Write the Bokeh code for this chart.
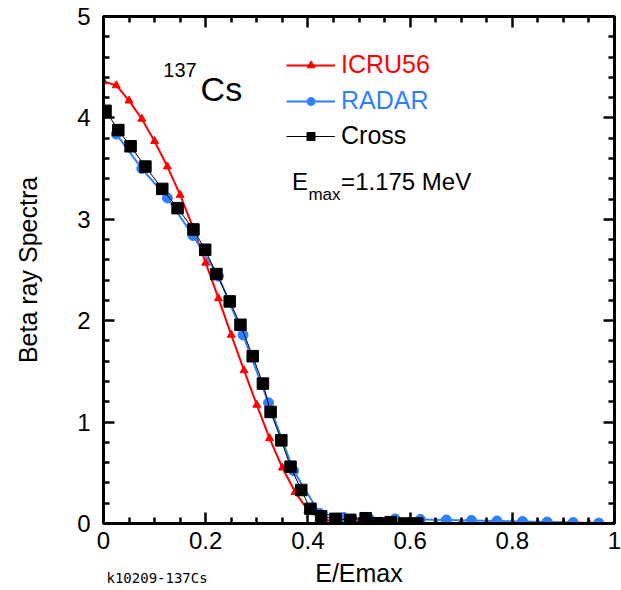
from bokeh.plotting import figure
from bokeh.models import (Range1d, LinearAxis, Legend, LegendItem, Label,
                          FixedTicker)
from bokeh.embed import file_html
from bokeh.resources import INLINE

# ---------------- data ----------------
icru_x = [0.0, 0.025, 0.05, 0.075, 0.1, 0.125, 0.15, 0.175, 0.2, 0.225,
          0.25, 0.275, 0.3, 0.325, 0.35, 0.375, 0.4, 0.425, 0.45, 0.475,
          0.5, 0.525, 0.55, 0.575, 0.6, 0.625, 0.65, 0.675, 0.7, 0.725,
          0.75, 0.775, 0.8, 0.825, 0.85, 0.875, 0.9, 0.925, 0.95, 0.975, 1.0]
icru_y = [4.36, 4.32, 4.17, 3.99, 3.77, 3.52, 3.24, 2.92, 2.57, 2.22,
          1.86, 1.51, 1.17, 0.84, 0.55, 0.31, 0.13, 0.05, 0.02, 0.012,
          0.008, 0.006, 0.005, 0.004, 0.004, 0.003, 0.003, 0.002, 0.002, 0.002,
          0.001, 0.001, 0.001, 0.001, 0.001, 0.0, 0.0, 0.0, 0.0, 0.0, 0.0]

radar_x = [0.025, 0.075, 0.125, 0.175, 0.225, 0.273, 0.323, 0.372, 0.423, 0.47,
           0.52, 0.571, 0.62, 0.671, 0.72, 0.77, 0.82, 0.868, 0.919, 0.969]
radar_y = [3.84, 3.50, 3.21, 2.84, 2.44, 1.86, 1.19, 0.52, 0.10, 0.06,
           0.05, 0.045, 0.04, 0.035, 0.03, 0.025, 0.02, 0.015, 0.01, 0.005]

cross_x = [0.004, 0.029, 0.053, 0.082, 0.115, 0.145, 0.176, 0.199, 0.221, 0.247,
           0.268, 0.292, 0.312, 0.327, 0.348, 0.366, 0.387, 0.405, 0.426, 0.454,
           0.483, 0.513, 0.536, 0.562, 0.589, 0.614]
cross_y = [4.07, 3.88, 3.72, 3.52, 3.30, 3.11, 2.90, 2.70, 2.46, 2.19,
           1.96, 1.65, 1.38, 1.10, 0.82, 0.56, 0.33, 0.145, 0.07, 0.046,
           0.036, 0.052, 0.003, 0.013, 0.0, 0.0]

x_ticks = [0, 0.2, 0.4, 0.6, 0.8, 1.0]
x_minor = [0.05, 0.1, 0.15, 0.25, 0.3, 0.35, 0.45, 0.5, 0.55, 0.65, 0.7, 0.75, 0.85, 0.9, 0.95]
y_ticks = [0, 1, 2, 3, 4, 5]
y_minor = [0.2, 0.4, 0.6, 0.8, 1.2, 1.4, 1.6, 1.8, 2.2, 2.4, 2.6, 2.8,
           3.2, 3.4, 3.6, 3.8, 4.2, 4.4, 4.6, 4.8]

RED = "#ff0000"
BLUE = "#2f7fff"
BLACK = "#000000"
FONT = "Liberation Sans"

p = figure(width=621, height=590, output_backend="svg", toolbar_location=None,
           x_range=Range1d(0, 1), y_range=Range1d(0, 5),
           min_border_left=103, min_border_right=7, min_border_top=15,
           min_border_bottom=67, x_axis_location=None, y_axis_location=None)
p.grid.visible = False
p.outline_line_color = "black"
p.outline_line_width = 3
p.background_fill_color = "white"
p.border_fill_color = "white"


def style_axis(ax, ticks, minor, labels=True):
    ax.ticker = FixedTicker(ticks=ticks, minor_ticks=minor)
    ax.axis_line_width = 3
    ax.axis_line_color = "black"
    ax.major_tick_in = 11
    ax.major_tick_out = 0
    ax.minor_tick_in = 6
    ax.minor_tick_out = 0
    ax.major_tick_line_width = 2.5
    ax.minor_tick_line_width = 2.5
    ax.major_label_text_font = FONT
    if labels:
        ax.major_label_text_font_size = "24px"
        ax.major_label_text_color = "black"
    else:
        ax.major_label_text_font_size = "0px"
        ax.major_label_text_color = None
        ax.major_label_standoff = 0


xb = LinearAxis(axis_label="E/Emax")
style_axis(xb, x_ticks, x_minor)
xb.major_label_standoff = 8
xb.axis_label_standoff = 7
xb.axis_label_text_font = FONT
xb.axis_label_text_font_size = "25px"
xb.axis_label_text_font_style = "normal"
xb.axis_label_text_color = "black"
xb.major_label_overrides = {0: "0", 1: "1"}
p.add_layout(xb, "below")

yl = LinearAxis(axis_label="Beta ray Spectra")
style_axis(yl, y_ticks, y_minor)
yl.major_label_standoff = 13
yl.axis_label_standoff = 32
yl.axis_label_text_font = FONT
yl.axis_label_text_font_size = "25px"
yl.axis_label_text_font_style = "normal"
yl.axis_label_text_color = "black"
p.add_layout(yl, "left")

xt = LinearAxis()
style_axis(xt, x_ticks, x_minor, labels=False)
p.add_layout(xt, "above")

yr = LinearAxis()
style_axis(yr, y_ticks, y_minor, labels=False)
p.add_layout(yr, "right")

# ---------------- series ----------------
r_line = p.line(icru_x, icru_y, line_color=RED, line_width=2)
r_pts = p.scatter(icru_x, icru_y, marker="triangle", size=8,
                  fill_color=RED, line_color=RED)
b_line = p.line(radar_x, radar_y, line_color=BLUE, line_width=2)
b_pts = p.scatter(radar_x, radar_y, marker="circle", size=10,
                  fill_color=BLUE, line_color=BLUE)
k_line = p.line(cross_x, cross_y, line_color=BLACK, line_width=1)
k_pts = p.scatter(cross_x, cross_y, marker="square", size=11.5,
                  fill_color=BLACK, line_color=BLACK)

# ---------------- legend (one per entry so each label has its colour) ----------------
entries = [("ICRU56", [r_line, r_pts], RED, 444),
           ("RADAR", [b_line, b_pts], BLUE, 408),
           ("Cross", [k_line, k_pts], BLACK, 373)]
for name, rends, col, ly in entries:
    lg = Legend(items=[LegendItem(label=name, renderers=rends)],
                location=(183, ly), padding=0, margin=0, spacing=0,
                glyph_width=49, glyph_height=20, label_standoff=6,
                label_height=20, label_text_font=FONT,
                label_text_font_size="25px", label_text_color=col,
                border_line_alpha=0, background_fill_alpha=0)
    p.add_layout(lg, "center")

# ---------------- annotations ----------------
def make_label(text, x, y, size, font=FONT, units="data"):
    return Label(x=x, y=y, text=text, text_font=font,
                 text_font_size=size, text_color="black",
                 x_units=units, y_units=units,
                 text_baseline="alphabetic", text_align="left")

p.add_layout(make_label("137", 0.117, 4.475, "20px"))
p.add_layout(make_label("Cs", 0.19, 4.288, "34px"))
p.add_layout(make_label("E", 0.369, 3.369, "24px"))
p.add_layout(make_label("max", 0.401, 3.245, "17px"))
p.add_layout(make_label("=1.175 MeV", 0.465, 3.369, "24px"))
# note below the x axis: kept in a side panel (so it is not clipped to the
# frame) and positioned in canvas pixels
p.add_layout(make_label("k10209-137Cs", 106, 577, "14px",
                        font="DejaVu Sans Mono", units="canvas"), "above")

open("out.html", "w").write(file_html(p, INLINE))
